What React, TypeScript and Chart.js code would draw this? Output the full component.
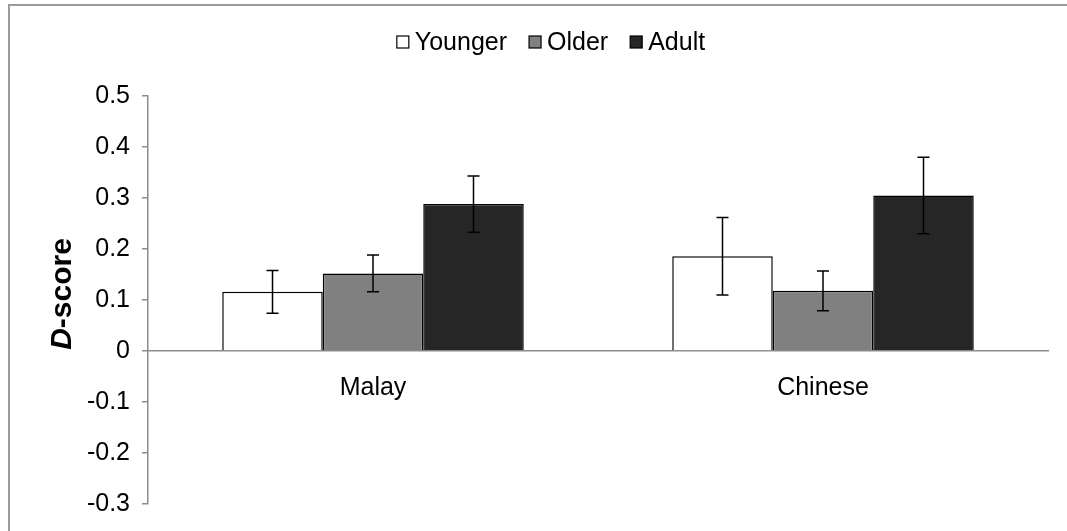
import React, { useEffect, useRef } from "react";
import { Chart, registerables } from "chart.js";

Chart.register(...registerables);

const categories = ["Malay", "Chinese"];
const seriesNames = ["Younger", "Older", "Adult"];
const youngerValues = [0.116, 0.186];
const olderValues = [0.152, 0.118];
const adultValues = [0.288, 0.305];
const youngerErrors = [0.042, 0.076];
const olderErrors = [0.036, 0.039];
const adultErrors = [0.055, 0.075];
const yTicks = [-0.3, -0.2, -0.1, 0, 0.1, 0.2, 0.3, 0.4, 0.5];
const yTitleItalic = "D";
const yTitleRest = "-score";

const fills = ["#ffffff", "#808080", "#262626"];
const FONT = "'Liberation Sans', Arial, sans-serif";
const AXIS_COLOR = "#8c8c8c";

const errorBarPlugin = {
  id: "errorBars",
  afterDatasetsDraw(chart: any) {
    const ctx = chart.ctx;
    const yScale = chart.scales.y;
    ctx.save();
    ctx.strokeStyle = "#000000";
    ctx.lineWidth = 1.5;
    chart.data.datasets.forEach((ds: any, i: number) => {
      const meta = chart.getDatasetMeta(i);
      meta.data.forEach((el: any, j: number) => {
        const v = ds.data[j];
        const e = ds.errors[j];
        const x = el.x;
        const yt = yScale.getPixelForValue(v + e);
        const yb = yScale.getPixelForValue(v - e);
        ctx.beginPath();
        ctx.moveTo(x, yt);
        ctx.lineTo(x, yb);
        ctx.moveTo(x - 6, yt);
        ctx.lineTo(x + 6, yt);
        ctx.moveTo(x - 6, yb);
        ctx.lineTo(x + 6, yb);
        ctx.stroke();
      });
    });
    ctx.restore();
  },
};

const legendAndTitlePlugin = {
  id: "customLegendTitle",
  afterDraw(chart: any) {
    const ctx = chart.ctx;
    ctx.save();
    // legend
    ctx.font = `25px ${FONT}`;
    ctx.textBaseline = "middle";
    ctx.textAlign = "left";
    const box = 12;
    const gapBox = 6;
    const gapItem = 22;
    const items = chart.data.datasets.map((ds: any) => ({
      label: ds.label,
      fill: ds.backgroundColor,
      w: ctx.measureText(ds.label).width,
    }));
    let total = 0;
    items.forEach((it: any, i: number) => {
      total += box + gapBox + it.w + (i < items.length - 1 ? gapItem : 0);
    });
    let x = 551 - total / 2;
    const cy = 42;
    items.forEach((it: any) => {
      ctx.fillStyle = it.fill;
      ctx.fillRect(x, cy - box / 2, box, box);
      ctx.strokeStyle = "#000000";
      ctx.lineWidth = 1.2;
      ctx.strokeRect(x, cy - box / 2, box, box);
      ctx.fillStyle = "#000000";
      ctx.fillText(it.label, x + box + gapBox, cy + 1);
      x += box + gapBox + it.w + gapItem;
    });
    // y axis title
    const area = chart.chartArea;
    const cyT = (area.top + area.bottom) / 2 - 6;
    ctx.translate(62, cyT);
    ctx.rotate(-Math.PI / 2);
    ctx.textBaseline = "middle";
    const fItalic = `italic bold 30px ${FONT}`;
    const fBold = `bold 30px ${FONT}`;
    ctx.font = fItalic;
    const w1 = ctx.measureText(yTitleItalic).width;
    ctx.font = fBold;
    const w2 = ctx.measureText(yTitleRest).width;
    const start = -(w1 + w2) / 2;
    ctx.font = fItalic;
    ctx.fillText(yTitleItalic, start, 1);
    ctx.font = fBold;
    ctx.fillText(yTitleRest, start + w1, 1);
    ctx.restore();
  },
};

export default function App() {
  const canvasRef = useRef<HTMLCanvasElement | null>(null);

  useEffect(() => {
    const canvas = canvasRef.current;
    if (!canvas) return;
    const values = [youngerValues, olderValues, adultValues];
    const errors = [youngerErrors, olderErrors, adultErrors];
    const chart = new Chart(canvas, {
      type: "bar",
      data: {
        labels: categories,
        datasets: seriesNames.map((name, i) => ({
          label: name,
          data: values[i],
          errors: errors[i],
          backgroundColor: fills[i],
          borderColor: "#000000",
          borderWidth: 1.5,
          categoryPercentage: 0.67,
          barPercentage: 1.0,
        })) as any,
      },
      options: {
        animation: false,
        responsive: false,
        maintainAspectRatio: false,
        layout: { padding: { left: 0, top: 96, right: 19, bottom: 27 } },
        plugins: {
          legend: { display: false },
          tooltip: { enabled: false },
        },
        scales: {
          x: {
            position: { y: 0 } as any,
            grid: { display: false },
            border: { color: AXIS_COLOR, width: 1.5 },
            ticks: {
              color: "#000000",
              font: { family: FONT, size: 25 },
              padding: 14,
            },
          },
          y: {
            min: -0.3,
            max: 0.5,
            afterFit(scale: any) {
              scale.width = 148;
            },
            afterBuildTicks(scale: any) {
              scale.ticks = yTicks.map((v) => ({ value: v }));
            },
            grid: {
              display: true,
              drawOnChartArea: false,
              drawTicks: true,
              tickLength: 6,
              color: AXIS_COLOR,
              lineWidth: 1.5,
            },
            border: { color: AXIS_COLOR, width: 1.5 },
            ticks: {
              color: "#000000",
              font: { family: FONT, size: 25 },
              padding: 12,
              callback: (v: any) => String(Number(Number(v).toFixed(1))),
            },
          },
        },
      },
      plugins: [errorBarPlugin, legendAndTitlePlugin],
    });
    return () => chart.destroy();
  }, []);

  return (
    <div
      style={{
        position: "fixed",
        left: 0,
        top: 0,
        width: 1067,
        height: 531,
        overflow: "hidden",
        background: "#ffffff",
      }}
    >
      <div
        style={{
          position: "absolute",
          left: 8,
          top: 4,
          width: 1200,
          height: 700,
          border: "2px solid #9a9a9a",
        }}
      />
      <canvas
        ref={canvasRef}
        width={1067}
        height={531}
        style={{ position: "absolute", left: 0, top: 0 }}
      />
    </div>
  );
}
